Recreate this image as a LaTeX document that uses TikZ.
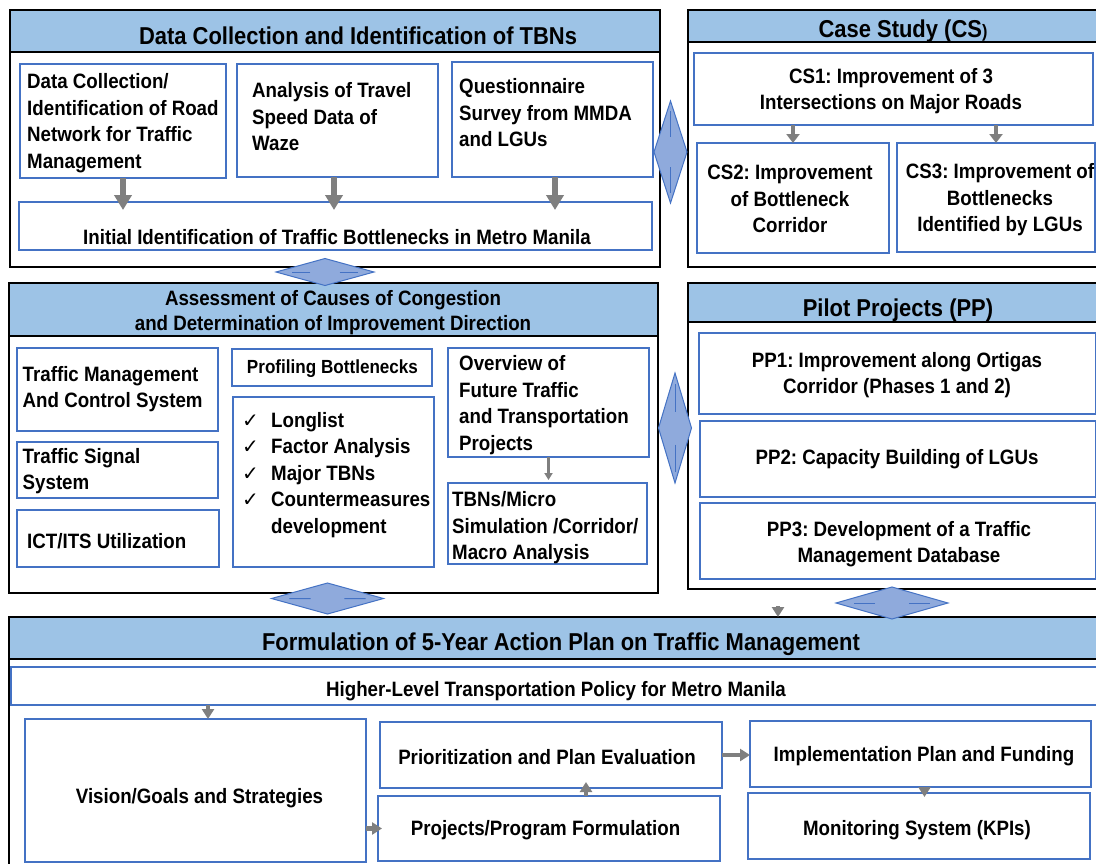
\documentclass[tikz,border=0pt]{standalone}
\usepackage{fontspec}
\setmainfont{Liberation Sans}[FakeStretch=0.9]
\newfontfamily\symfont{DejaVu Sans}
\usetikzlibrary{arrows.meta,shapes.geometric,calc}
\definecolor{hdrblue}{HTML}{9DC3E6}
\definecolor{boxblue}{HTML}{4472C4}
\definecolor{dmdfill}{HTML}{8FAADC}
\definecolor{arrgray}{HTML}{7F7F7F}
\frenchspacing
\newcommand\mychk{\makebox[29pt][l]{\symfont\mdseries\fontsize{20}{20}\selectfont ✓}}
\tikzset{
  outerbox/.style={draw=black, line width=2pt, fill=white, rectangle, inner sep=0pt, outer sep=0pt, anchor=north west},
  hdrbox/.style={outerbox, fill=hdrblue},
  ibox/.style={draw=boxblue, line width=1.3pt, fill=white, rectangle, inner sep=0pt, outer sep=0pt, anchor=north west},
  tl/.style={inner sep=0pt, align=left, font=\frenchspacing\bfseries\fontsize{20.8}{26.5}\selectfont},
  tc/.style={tl, align=center},
  ttl/.style={inner sep=0pt, align=center, font=\frenchspacing\bfseries\fontsize{24.4}{28}\selectfont},
  dmd/.style={diamond, draw=boxblue, fill=dmdfill, line width=1pt, inner sep=0pt, outer sep=0pt},
  dmdline/.style={draw=boxblue, line width=1pt},
  bigarr/.style={color=arrgray, line width=6pt, -{Triangle[width=17pt,length=15pt]}},
  medarr/.style={color=arrgray, line width=4pt, -{Triangle[width=13pt,length=9pt]}},
  smallarr/.style={color=arrgray, line width=4.5pt, -{Triangle[width=12pt,length=10pt]}},
  thinarr/.style={color=arrgray, line width=2.5pt, -{Triangle[width=8pt,length=7pt]}},
}
\begin{document}
\begin{tikzpicture}[x=1pt,y=-1pt]
\useasboundingbox (0,0) rectangle (1096,863);
\fill[white] (0,0) rectangle (1096,863);

% ---------- outer frames ----------
\node[outerbox, minimum width=650pt, minimum height=257pt] (aout) at (10,10) {};
\node[hdrbox, minimum width=650pt, minimum height=42pt] (ahead) at (10,10) {};
\node[outerbox, minimum width=412pt, minimum height=257pt] (csout) at (688,10) {};
\node[hdrbox, minimum width=412pt, minimum height=32pt] (cshead) at (688,10) {};
\node[outerbox, minimum width=649pt, minimum height=310pt] (bout) at (9,283) {};
\node[hdrbox, minimum width=649pt, minimum height=53pt] (bhead) at (9,283) {};
\node[outerbox, minimum width=412pt, minimum height=306pt] (ppout) at (688,283) {};
\node[hdrbox, minimum width=412pt, minimum height=39pt] (pphead) at (688,283) {};
\node[outerbox, minimum width=1091pt, minimum height=260pt] (cout) at (9,617) {};
\node[hdrbox, minimum width=1091pt, minimum height=42pt] (chead) at (9,617) {};

% ---------- titles ----------
\node[ttl] (atitle) at (358,35.5) {Data Collection and Identification of TBNs};
\node[ttl] (cstitle) at (903,31) {Case Study (CS{\fontsize{18}{18}\selectfont)}};
\node[tc] (btitle) at (333,313) {Assessment of Causes of Congestion\\[-1.5pt]and Determination of Improvement Direction};
\node[ttl] (pptitle) at (898,310) {Pilot Projects (PP)};
\node[ttl] (ctitle) at (561,644) {Formulation of 5-Year Action Plan on Traffic Management};

% ---------- block A ----------
\node[ibox, minimum width=206pt, minimum height=114pt] (a1) at (20,64) {};
\node[ibox, minimum width=201pt, minimum height=113pt] (a2) at (237,64) {};
\node[ibox, minimum width=201pt, minimum height=115pt] (a3) at (452,62) {};
\node[ibox, minimum width=633pt, minimum height=48pt] (a4) at (19,202) {};
\node[tl, anchor=west] (a1t) at (27,123) {Data Collection/\\Identification of Road\\Network for Traffic\\Management};
\node[tl, anchor=west] (a2t) at (252,117) {Analysis of Travel\\Speed Data of\\Waze};
\node[tl, anchor=west] (a3t) at (459,113) {Questionnaire\\Survey from MMDA\\and LGUs};
\node[tc] (a4t) at (337,237.5) {Initial Identification of Traffic Bottlenecks in Metro Manila};
\draw[bigarr, shorten >=-8pt] (a1.south) -- (a1.south |- a4.north);
\coordinate (a2s) at ($(a2.south)+(-3.5,0)$);
\draw[bigarr, shorten >=-8pt] (a2s) -- (a2s |- a4.north);
\coordinate (a3s) at ($(a3.south)+(2.5,0)$);
\draw[bigarr, shorten >=-8pt] (a3s) -- (a3s |- a4.north);

% ---------- block CS ----------
\node[ibox, minimum width=399pt, minimum height=72pt] (cs1) at (694,53) {};
\node[ibox, minimum width=192pt, minimum height=110pt] (cs2) at (697,143) {};
\node[ibox, minimum width=198pt, minimum height=109pt] (cs3) at (897,143) {};
\node[tc] (cs1t) at (891,91) {CS1: Improvement of 3\\[-1pt]Intersections on Major Roads};
\node[tc] (cs2t) at (790,199) {CS2: Improvement\\of Bottleneck\\Corridor};
\node[tc] (cs3t) at (1000,200) {CS3: Improvement of\\Bottlenecks\\Identified by LGUs};
\draw[medarr] (cs2.north |- cs1.south) -- (cs2.north);
\draw[medarr] (cs3.north |- cs1.south) -- (cs3.north);

% ---------- block B ----------
\node[ibox, minimum width=201pt, minimum height=83pt] (b1) at (17,348) {};
\node[ibox, minimum width=201pt, minimum height=56pt] (b2) at (17,442) {};
\node[ibox, minimum width=202pt, minimum height=57pt] (b3) at (17,510) {};
\node[ibox, minimum width=200pt, minimum height=37pt] (b4) at (232,349) {};
\node[ibox, minimum width=201pt, minimum height=170pt] (b5) at (233,397) {};
\node[ibox, minimum width=201pt, minimum height=109pt] (b6) at (448,348) {};
\node[ibox, minimum width=199pt, minimum height=81pt] (b7) at (448,483) {};
\node[tl, anchor=west] (b1t) at (22.5,389) {Traffic Management\\And Control System};
\node[tl, anchor=west] (b2t) at (22.5,471) {Traffic Signal\\System};
\node[tl, anchor=west] (b3t) at (27,541) {ICT/ITS Utilization};
\node[tc, font=\bfseries\fontsize{19}{22}\selectfont] (b4t) at (332.5,369) {Profiling Bottlenecks};
\node[tl, anchor=west] (b5t) at (242,475) {\mychk Longlist\\\mychk Factor Analysis\\\mychk Major TBNs\\\mychk Countermeasures\\\hspace*{29pt}development};
\node[tl, anchor=west] (b6t) at (459,405) {Overview of\\Future Traffic\\and Transportation\\Projects};
\node[tl, anchor=west] (b7t) at (452,528) {TBNs/Micro\\Simulation /Corridor/\\Macro Analysis};
\draw[thinarr, shorten >=3pt] (b6.south) -- (b6.south |- b7.north);

% ---------- block PP ----------
\node[ibox, minimum width=397pt, minimum height=81pt] (pp1) at (699,333) {};
\node[ibox, minimum width=396pt, minimum height=76pt] (pp2) at (700,421) {};
\node[ibox, minimum width=396pt, minimum height=76pt] (pp3) at (700,503) {};
\node[tc] (pp1t) at (897,375) {PP1: Improvement along Ortigas\\Corridor (Phases 1 and 2)};
\node[tc] (pp2t) at (897,459) {PP2: Capacity Building of LGUs};
\node[tc] (pp3t) at (899,544) {PP3: Development of a Traffic\\Management Database};
\coordinate (ppt) at (778,606);
\draw[smallarr] (ppt) -- (ppt |- chead.north);

% ---------- block C ----------
\node[ibox, minimum width=1090pt, minimum height=38pt] (hl) at (11,667) {};
\node[ibox, minimum width=341pt, minimum height=143pt] (vis) at (25,719) {};
\node[ibox, minimum width=342pt, minimum height=66pt] (pri) at (380,722) {};
\node[ibox, minimum width=342pt, minimum height=65pt] (pro) at (378,796) {};
\node[ibox, minimum width=341pt, minimum height=66pt] (imp) at (750,721) {};
\node[ibox, minimum width=342pt, minimum height=66pt] (mon) at (748,793) {};
\node[tc] (hlt) at (556,691) {Higher-Level Transportation Policy for Metro Manila};
\node[tc] (vist) at (199.5,798.5) {Vision/Goals and Strategies};
\node[tc] (prit) at (547,757) {Prioritization and Plan Evaluation};
\node[tc] (prot) at (545.5,830) {Projects/Program Formulation};
\node[tc] (impt) at (924,756) {Implementation Plan and Funding};
\node[tc] (mont) at (917,830) {Monitoring System (KPIs)};
\coordinate (hlv) at ($(vis.north)+(12.5,0)$);
\draw[smallarr] (hlv |- hl.south) -- (hlv);
\draw[smallarr, shorten >=-4pt] (vis.east |- pro.west) -- (pro.west);
\coordinate (prou) at ($(pro.north)+(37,0)$);
\draw[smallarr, shorten >=-6pt] (prou) -- (prou |- pri.south);
\draw[smallarr] (pri.east) -- (pri.east -| imp.west);
\coordinate (impd) at ($(imp.south)+(4,0)$);
\draw[smallarr, shorten >=-4pt] (impd) -- (impd |- mon.north);

% ---------- double-arrow diamonds ----------
\node[dmd, minimum width=98pt, minimum height=27pt] (d1) at (325,272) {};
\node[dmd, minimum width=33pt, minimum height=102pt] (d2) at (670.5,152) {};
\node[dmd, minimum width=112pt, minimum height=31pt] (d3) at (327.5,598.5) {};
\node[dmd, minimum width=33pt, minimum height=110pt] (d4) at (675,428) {};
\node[dmd, minimum width=112pt, minimum height=32pt] (d5) at (892,603) {};
\foreach \d in {d1,d3,d5}{
  \draw[dmdline] ($(\d.center)!0.3!(\d.west)$) -- ($(\d.center)!0.68!(\d.west)$);
  \draw[dmdline] ($(\d.center)!0.3!(\d.east)$) -- ($(\d.center)!0.68!(\d.east)$);
}
\foreach \d in {d2,d4}{
  \draw[dmdline] ($(\d.center)!0.3!(\d.north)$) -- ($(\d.center)!0.8!(\d.north)$);
  \draw[dmdline] ($(\d.center)!0.3!(\d.south)$) -- ($(\d.center)!0.8!(\d.south)$);
}
\end{tikzpicture}
\end{document}
